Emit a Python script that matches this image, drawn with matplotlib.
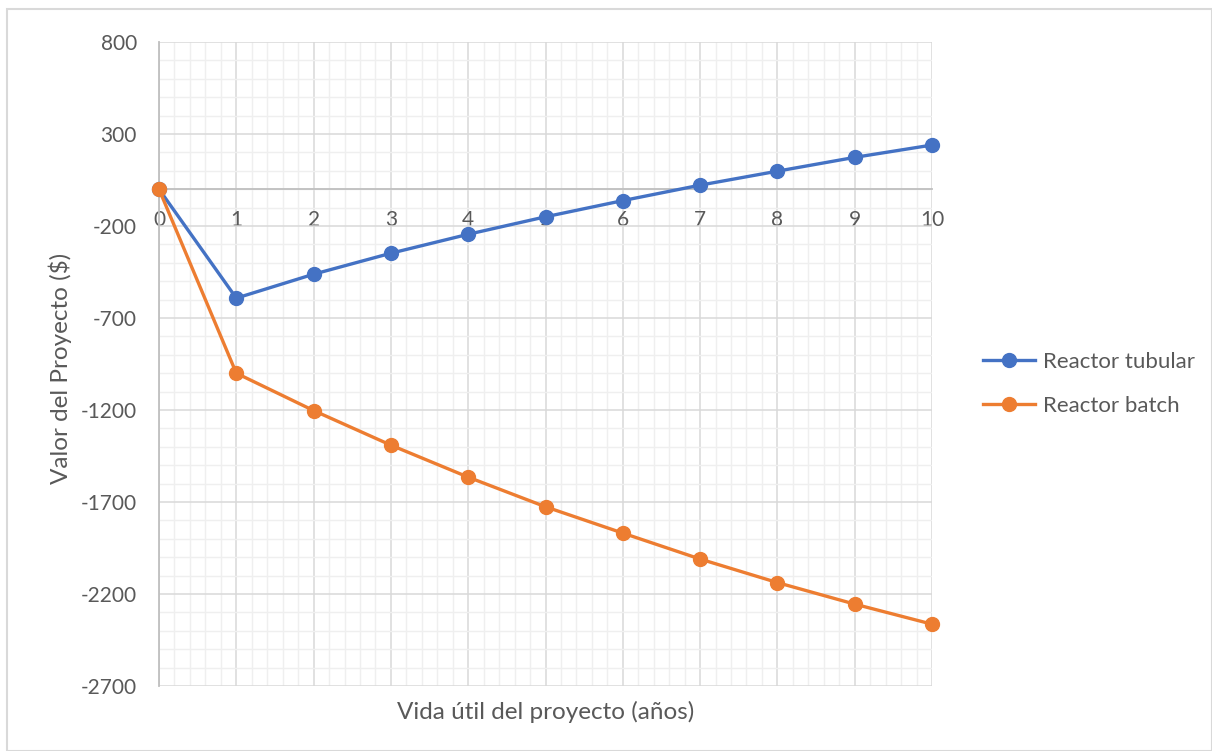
import numpy as np
import matplotlib.pyplot as plt
from matplotlib.ticker import FixedLocator, MultipleLocator
from matplotlib.patches import Rectangle

# años de vida útil y valor acumulado del proyecto para cada reactor
anios = [0, 1, 2, 3, 4, 5, 6, 7, 8, 9, 10]
valor_tubular = [0, -592, -462, -348, -245, -150, -62, 22, 98, 173, 240]
valor_batch = [0, -1000, -1203, -1391, -1565, -1726, -1869, -2010, -2138, -2255, -2364]

azul = "#4472C4"
naranja = "#ED7D31"
gris_texto = "#595959"

plt.rcParams['font.family'] = ['Lato', 'DejaVu Sans']
plt.rcParams['axes.unicode_minus'] = False

fig = plt.figure(figsize=(12.12, 7.51), dpi=100)
ax = fig.add_axes([159 / 1212, 1 - 686 / 751, (932 - 159) / 1212, (686 - 42) / 751])

# marco exterior del gráfico
fig.patches.append(Rectangle((7 / 1212, 0), 1 - 7 / 1212, 1 - 9 / 751,
                             transform=fig.transFigure, fill=False,
                             edgecolor="#d9d9d9", linewidth=1.5))

ax.plot(anios, valor_tubular, color=azul, lw=2.4, marker="o", ms=10,
        label="Reactor tubular", zorder=4, clip_on=False)
ax.plot(anios, valor_batch, color=naranja, lw=2.4, marker="o", ms=10,
        label="Reactor batch", zorder=5, clip_on=False)

ax.set_xlim(0, 10)
ax.set_ylim(-2700, 800)
ax.xaxis.set_major_locator(MultipleLocator(1))
ax.xaxis.set_minor_locator(MultipleLocator(0.2))
ax.yaxis.set_major_locator(FixedLocator(np.arange(-2700, 801, 500)))
ax.yaxis.set_minor_locator(FixedLocator(np.arange(-2700, 801, 100)))

ax.grid(which="major", color="#d9d9d9", lw=1.1, zorder=0)
ax.grid(which="minor", color="#efefef", lw=1.0, zorder=0)
ax.set_axisbelow(True)

# eje horizontal cruzando en cero
ax.spines["bottom"].set_position(("data", 0))
ax.spines["bottom"].set_color("#bfbfbf")
ax.spines["bottom"].set_linewidth(1.3)
ax.spines["left"].set_color("#bfbfbf")
ax.spines["left"].set_linewidth(1.3)
ax.spines["top"].set_visible(False)
ax.spines["right"].set_visible(False)

ax.tick_params(which="both", length=0)
ax.tick_params(axis="x", pad=15, labelsize=15, labelcolor=gris_texto)
ax.tick_params(axis="y", pad=16, labelsize=15, labelcolor=gris_texto)

fig.text(60 / 1212, 1 - 368 / 751, "Valor del Proyecto ($)", rotation=90,
         ha="center", va="center", fontsize=17.5, color=gris_texto)
fig.text((159 + 932) / 2 / 1212, 1 - 712 / 751, "Vida útil del proyecto (años)",
         ha="center", va="center", fontsize=17.5, color=gris_texto)

fig.legend(loc="center left", bbox_to_anchor=(963 / 1212, 1 - 384 / 751),
           frameon=False, fontsize=16, labelcolor=gris_texto,
           handlelength=2.35, labelspacing=1.1, handletextpad=0.35)

fig.savefig("out.png", dpi=100)
